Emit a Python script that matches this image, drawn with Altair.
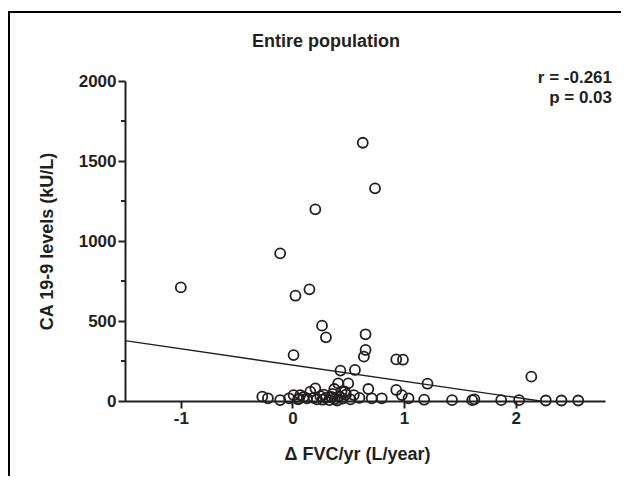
import altair as alt
import pandas as pd

# Scatter data: change in FVC per year (L/year) vs CA 19-9 levels (kU/L)
fvc = [-1.0, 0.63, 0.74, 0.205, -0.11, 0.027, 0.152, 0.265, 0.30, 0.655,
       0.655, 0.64, 0.01, 0.93, 0.99, 0.43, 0.56, 1.21, 2.14, 0.41,
       0.50, 0.205, 0.375, 0.47, 0.55, 0.68, 0.93, 0.98, 1.04, 0.71,
       0.80, -0.27, -0.22, -0.11, -0.03, 0.01, 0.07, 0.13, 0.16, 1.18,
       1.43, 1.61, 1.63, 1.87, 2.03, 2.27, 2.41, 2.56, 0.19, 0.22,
       0.25, 0.27, 0.30, 0.33, 0.35, 0.38, 0.40, 0.42, 0.45, 0.48,
       0.52, 0.05, 0.10, 0.28, 0.36, 0.60, 0.44, 0.06]
ca199 = [710, 1614, 1329, 1198, 923, 658, 698, 471, 398, 417,
         319, 277, 287, 260, 258, 190, 194, 108, 152, 110,
         110, 79, 75, 58, 37, 75, 69, 37, 17, 17,
         17, 27, 17, 6, 17, 37, 37, 17, 58, 8,
         5, 5, 10, 5, 5, 3, 3, 3, 20, 10,
         30, 8, 20, 5, 25, 12, 3, 30, 15, 40,
         10, 10, 25, 40, 45, 20, 60, 15]

# Regression line end points
fit_x = [-1.5, 2.22]
fit_y = [377, 0]

# Axis ticks
x_ticks = [-1, 0, 1, 2]
y_ticks = [0, 500, 1000, 1500, 2000]
y_minor = [250, 750, 1250, 1750]

title_text = "Entire population"
stat_r = "r = -0.261"
stat_p = "p = 0.03"

FONT = "Liberation Sans"
INK = "#231f20"

pts = pd.DataFrame({"x": fvc, "y": ca199})
fit = pd.DataFrame({"x": fit_x, "y": fit_y})
minor = pd.DataFrame({"y": y_minor})

xscale = alt.Scale(domain=[-1.5, 2.8], nice=False, zero=False)
yscale = alt.Scale(domain=[0, 2000], nice=False)

xaxis = alt.Axis(values=x_ticks, labelExpr="'' + datum.value", title="Δ FVC/yr (L/year)",
                 grid=False, domainColor=INK, domainWidth=2, tickColor=INK,
                 tickWidth=2, tickSize=7, labelFont=FONT, labelFontSize=17,
                 labelFontWeight="bold", labelColor=INK, labelPadding=2,
                 titleFont=FONT, titleFontSize=18, titleFontWeight="bold",
                 titleColor=INK, titlePadding=19, titleX=232)
yaxis = alt.Axis(values=y_ticks, labelExpr="'' + datum.value", title="CA 19-9 levels (kU/L)",
                 grid=False, domainColor=INK, domainWidth=2, tickColor=INK,
                 tickWidth=2, tickSize=7, labelFont=FONT, labelFontSize=17,
                 labelFontWeight="bold", labelColor=INK, labelPadding=2,
                 titleFont=FONT, titleFontSize=18, titleFontWeight="bold",
                 titleColor=INK, titlePadding=22)

X = alt.X("x:Q", scale=xscale, axis=xaxis)
Y = alt.Y("y:Q", scale=yscale, axis=yaxis)

points = alt.Chart(pts).mark_point(
    shape="circle", filled=False, size=100, stroke=INK, strokeWidth=1.8, opacity=1
).encode(x=X, y=Y)

line = alt.Chart(fit).mark_line(color=INK, strokeWidth=1.4).encode(x=X, y=Y)

minor_ticks = alt.Chart(minor).mark_rule(color=INK, strokeWidth=2).encode(
    y=Y, x=alt.value(-4), x2=alt.value(0),
)

def label(text, x, y, align, size):
    return alt.Chart(pd.DataFrame({"t": [text]})).mark_text(
        font=FONT, fontSize=size, fontWeight="bold", color=INK, align=align, baseline="middle"
    ).encode(text="t:N", x=alt.value(x), y=alt.value(y))

title = label(title_text, 201, -39, "center", 18)
stat1 = label(stat_r, 487, -3, "right", 17)
stat2 = label(stat_p, 487, 17, "right", 17)

frame_left = alt.Chart(pd.DataFrame({"a": [0]})).mark_rule(color="black", strokeWidth=2).encode(
    x=alt.value(-116), y=alt.value(-69), y2=alt.value(410)
)
frame_top = alt.Chart(pd.DataFrame({"a": [0]})).mark_rule(color="black", strokeWidth=2).encode(
    x=alt.value(-117), x2=alt.value(510), y=alt.value(-69)
)

chart = alt.layer(points, line, minor_ticks, frame_left, frame_top, title, stat1, stat2).properties(
    width=480, height=320,
    background="white",
    autosize=alt.AutoSizeParams(type="none"),
    padding={"left": 117, "top": 73, "right": 16, "bottom": 75},
).configure_view(stroke=None)

chart.save("out.html", embed_options={"renderer": "svg", "actions": False})
